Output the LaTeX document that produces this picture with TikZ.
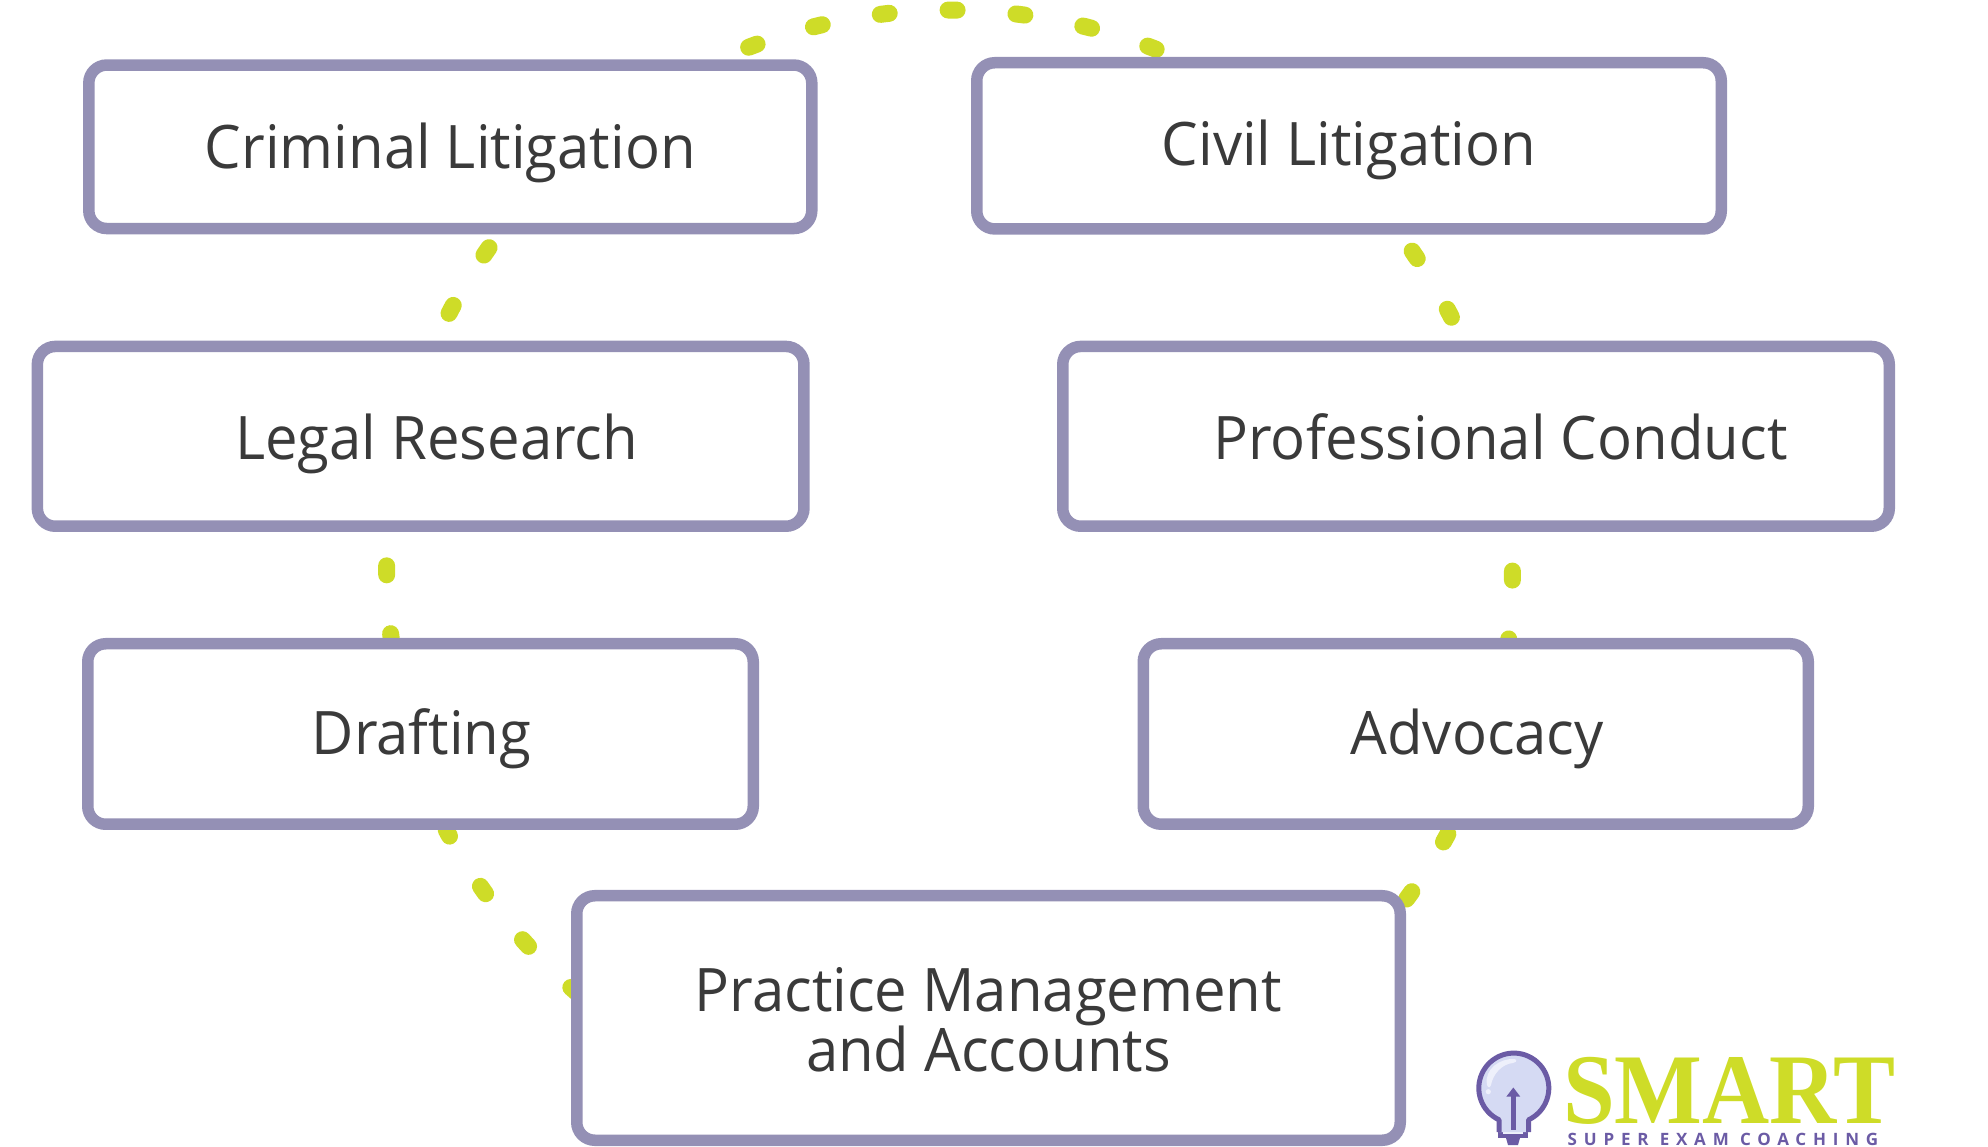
\documentclass[tikz,border=0pt]{standalone}
\usepackage{fontspec}
\setmainfont{Open Sans}[FakeStretch=0.967]
\newfontfamily\logoserif{Liberation Serif}
\newfontfamily\logosans{Open Sans}
\usetikzlibrary{backgrounds}
\definecolor{boxline}{HTML}{9490B5}
\definecolor{lime}{HTML}{CEDC28}
\definecolor{inktext}{HTML}{3A3A3A}
\definecolor{bulbline}{HTML}{6B5BA5}
\definecolor{bulbfill}{HTML}{D5DAF3}
\definecolor{bulblight}{HTML}{EEF0FB}
\tikzset{
  subjectbox/.style={draw=boxline,fill=white,line width=11.5pt,rounded corners=18pt,inner sep=0pt,
    text=inktext,font=\fontsize{60}{61}\selectfont,text depth=10pt},
  ringdots/.style={draw=lime,line width=17pt,line cap=round,dash pattern=on 9pt off 59pt,looseness=0.86}
}
\begin{document}
\begin{tikzpicture}[x=1pt,y=1pt]
\useasboundingbox (0,0) rectangle (1988,1146);
\node[subjectbox,minimum width=723pt,minimum height=163.5pt,text height=53pt] (crim) at (450.3,999.2) {Criminal Litigation};
\node[subjectbox,minimum width=744.5pt,minimum height=166.2pt,text height=49.5pt] (civ) at (1349,1000.15) {Civil Litigation};
\node[subjectbox,minimum width=766.6pt,minimum height=179.8pt,text height=57pt] (legal) at (420.65,709.65) {\hspace*{32pt}Legal Research};
\node[subjectbox,minimum width=826.5pt,minimum height=179.8pt,text height=57pt] (prof) at (1476,709.65) {\hspace*{49pt}Professional Conduct};
\node[subjectbox,minimum width=665.5pt,minimum height=180.5pt,text height=51pt] (draft) at (420.5,412) {\hspace*{2pt}Drafting};
\node[subjectbox,minimum width=665pt,minimum height=180.5pt,text height=51pt] (adv) at (1475.75,412) {\hspace*{3pt}Advocacy};
\node[draw=boxline,fill=white,line width=11.5pt,rounded corners=18pt,inner sep=0pt,text=inktext,font=\fontsize{60}{60}\selectfont,align=center,minimum width=823.5pt,minimum height=244.5pt] (prac) at (988.5,128) {\rule{0pt}{47.5pt}Practice Management\\and Accounts};
\begin{scope}[on background layer]
  \draw[ringdots,dash phase=48pt] (civ.153.1) to[bend right=23.85,looseness=0.89] (crim.18.06);
  \draw[ringdots,dash phase=51.45pt] (crim.-61) to[bend right=6.3] (legal.81.06);
  \draw[ringdots,dash phase=34.15pt] (legal.-109.4) to[bend right=5.4] (draft.107.73);
  \draw[ringdots,dash phase=2.05pt] (draft.-75.63) to[bend right=12.42] ([xshift=27pt,yshift=-28.2pt]prac.175.97);
  \draw[ringdots,dash phase=21.15pt] ([xshift=-28.7pt,yshift=-37.3pt]prac.16) to[bend right=6.42] (adv.-105.9);
  \draw[ringdots,dash phase=65.85pt] ([xshift=-1.5pt,yshift=-12pt]adv.71.05) to[bend right=6.02] (prof.-70.43);
  \draw[ringdots,dash phase=42.05pt] (prof.98.74) to[bend right=6.28] (civ.-60.63);
\end{scope}
% logo: light bulb
\fill[bulbline] (1506,8) -- (1520,8) -- (1518,1) -- (1508,1) -- cycle;
\fill[bulbline] (1498.3,7.7) rectangle (1528.3,19.3);
\fill[bulblight] (1503,12) rectangle (1523,14);
\draw[bulbline,fill=bulbfill,line width=5pt,line join=round] (1499,14) -- (1499,26.2) arc[start angle=-115,end angle=-425,radius=35] -- (1528.6,14);
\fill[bulblight] (1487,61) .. controls (1484,77) and (1500,88) .. (1515,87) .. controls (1518,85) and (1515,83) .. (1513,83) .. controls (1502,82) and (1493,72) .. (1491,61) .. controls (1490,58) and (1488,58) .. (1487,61) -- cycle;
\fill[bulblight] (1488.3,54.3) circle[radius=2.6];
\fill[bulbline] (1511,16) rectangle (1515.6,50);
\fill[bulbline] (1513.3,58.5) -- (1506.3,49.3) -- (1520.3,49.3) -- cycle;
\node[anchor=base,inner sep=0pt,text=lime,font=\logoserif\bfseries\fontsize{100}{100}\selectfont] (smart) at (1729.5,23) {\scalebox{0.93}[1]{SMART}};
\node[anchor=base,inner sep=0pt,text=bulbline,font=\logosans\bfseries\fontsize{17}{17}\selectfont\addfontfeature{LetterSpace=40}] (tagline) at (1723,0.5) {SUPER EXAM COACHING};
\end{tikzpicture}
\end{document}
